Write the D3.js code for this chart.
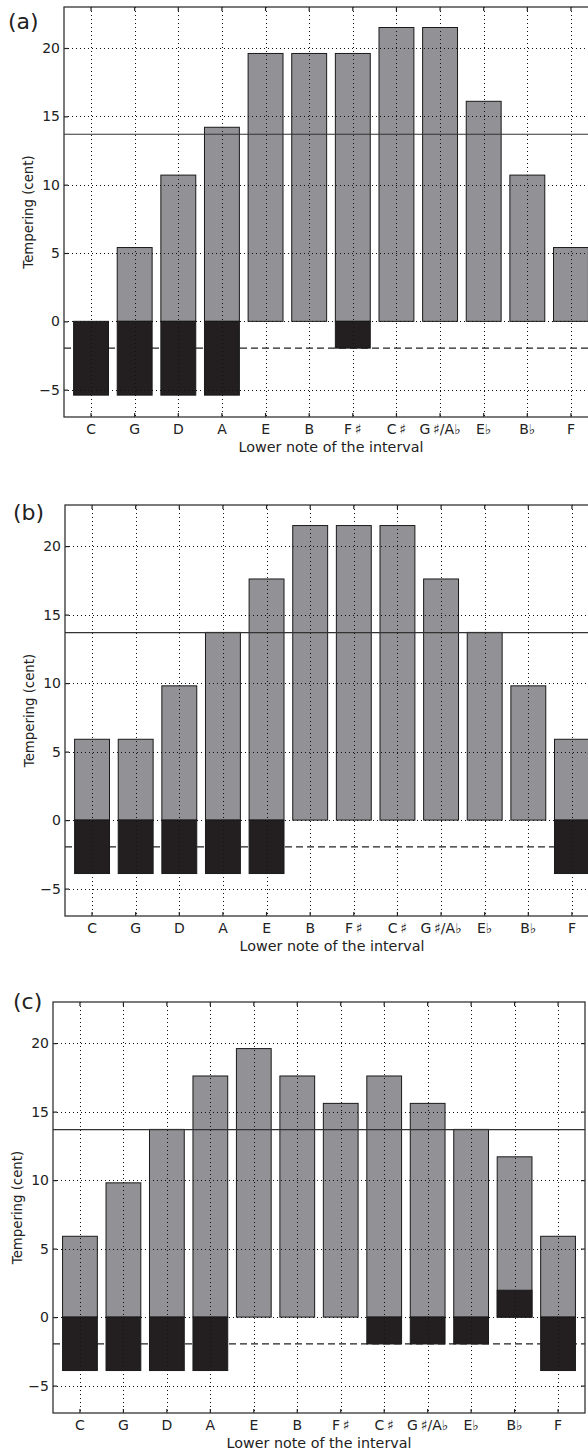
<!DOCTYPE html>
<html>
<head>
<meta charset="utf-8">
<script src="https://cdn.jsdelivr.net/npm/d3@7"></script>
<style>
  html, body { margin: 0; padding: 0; background: #fff; }
  svg { display: block; font-family: "DejaVu Sans", sans-serif; }
</style>
</head>
<body>
<div id="chart"></div>
<script>
const notes = ["C", "G", "D", "A", "E", "B", "F\u2009\u266F", "C\u2009\u266F", "G\u2009\u266F/A\u266D", "E\u266D", "B\u266D", "F"];
const yTicks = [-5, 0, 5, 10, 15, 20];
const etThird = 13.69;
const etFifth = -1.96;

// gray bars: tempering of the major thirds, black bars: tempering of the fifths
const thirdsA = [0, 5.4, 10.7, 14.2, 19.6, 19.6, 19.6, 21.5, 21.5, 16.1, 10.7, 5.4];
const fifthsA = [-5.4, -5.4, -5.4, -5.4, 0, 0, -1.96, 0, 0, 0, 0, 0];
const thirdsB = [5.9, 5.9, 9.8, 13.7, 17.6, 21.5, 21.5, 21.5, 17.6, 13.7, 9.8, 5.9];
const fifthsB = [-3.9, -3.9, -3.9, -3.9, -3.9, 0, 0, 0, 0, 0, 0, -3.9];
const thirdsC = [5.9, 9.8, 13.7, 17.6, 19.6, 17.6, 15.6, 17.6, 15.6, 13.7, 11.7, 5.9];
const fifthsC = [-3.9, -3.9, -3.9, -3.9, 0, 0, 0, -1.96, -1.96, -1.96, 1.96, -3.9];

const panels = [
  { label: "(a)", thirds: thirdsA, fifths: fifthsA, left: 64, top: 7, bottom: 417, right: 598, labelX: 8, labelY: 29, titleX: 28 },
  { label: "(b)", thirds: thirdsB, fifths: fifthsB, left: 65, top: 505, bottom: 916, right: 599, labelX: 13, labelY: 520, titleX: 29 },
  { label: "(c)", thirds: thirdsC, fifths: fifthsC, left: 53, top: 1002, bottom: 1413, right: 585, labelX: 13, labelY: 1009, titleX: 17 }
];

const width = 588, height = 1452;
const grayFill = "#929296";
const darkFill = "#231f20";
const lineColor = "#222";

const svg = d3.select("#chart").append("svg")
  .attr("width", width).attr("height", height);

panels.forEach(p => {
  const x = d3.scaleBand().domain(notes).range([p.left, p.right])
    .paddingInner(0.2).paddingOuter(0.22);
  const y = d3.scaleLinear().domain([-7, 23]).range([p.bottom, p.top]);
  const g = svg.append("g");
  const cx = d => x(d) + x.bandwidth() / 2;

  // dashed line: tempering of the equal-tempered fifth
  g.append("line")
    .attr("x1", p.left).attr("x2", p.right)
    .attr("y1", y(etFifth)).attr("y2", y(etFifth))
    .attr("stroke", lineColor).attr("stroke-width", 1.2)
    .attr("stroke-dasharray", "7,4");

  // gray bars
  g.selectAll(".third").data(notes.map((n, i) => ({ n, v: p.thirds[i] })).filter(d => d.v !== 0))
    .join("rect").attr("class", "third")
    .attr("x", d => x(d.n)).attr("width", x.bandwidth())
    .attr("y", d => y(Math.max(0, d.v))).attr("height", d => Math.abs(y(d.v) - y(0)))
    .attr("fill", grayFill).attr("stroke", "#1a1a1a").attr("stroke-width", 1);

  // black bars
  g.selectAll(".fifth").data(notes.map((n, i) => ({ n, v: p.fifths[i] })).filter(d => d.v !== 0))
    .join("rect").attr("class", "fifth")
    .attr("x", d => x(d.n)).attr("width", x.bandwidth())
    .attr("y", d => y(Math.max(0, d.v))).attr("height", d => Math.abs(y(d.v) - y(0)))
    .attr("fill", darkFill).attr("stroke", "#1a1a1a").attr("stroke-width", 1);

  // dotted grid
  g.selectAll(".vgrid").data(notes).join("line").attr("class", "vgrid")
    .attr("x1", d => Math.round(cx(d)) + 0.5).attr("x2", d => Math.round(cx(d)) + 0.5)
    .attr("y1", p.top).attr("y2", p.bottom)
    .attr("stroke", "#111").attr("stroke-width", 1).attr("stroke-dasharray", "1,3");
  g.selectAll(".hgrid").data(yTicks).join("line").attr("class", "hgrid")
    .attr("x1", p.left).attr("x2", p.right)
    .attr("y1", d => Math.round(y(d)) + 0.5).attr("y2", d => Math.round(y(d)) + 0.5)
    .attr("stroke", "#111").attr("stroke-width", 1).attr("stroke-dasharray", "1,3");

  // solid line: tempering of the equal-tempered major third
  g.append("line")
    .attr("x1", p.left).attr("x2", p.right)
    .attr("y1", y(etThird)).attr("y2", y(etThird))
    .attr("stroke", "#333").attr("stroke-width", 1.2);

  // axes with inward ticks
  const xAxis = g.append("g").attr("transform", `translate(0,${p.bottom})`)
    .call(d3.axisBottom(x).tickSize(-4).tickPadding(5));
  const xTop = g.append("g").attr("transform", `translate(0,${p.top})`)
    .call(d3.axisTop(x).tickSize(-4).tickFormat(""));
  const yAxis = g.append("g").attr("transform", `translate(${p.left},0)`)
    .call(d3.axisLeft(y).tickValues(yTicks).tickSize(-4).tickPadding(4));
  const yRight = g.append("g").attr("transform", `translate(${p.right},0)`)
    .call(d3.axisRight(y).tickValues(yTicks).tickSize(-4).tickFormat(""));
  [xAxis, xTop, yAxis, yRight].forEach(a => {
    a.select(".domain").remove();
    a.selectAll("line").attr("stroke", lineColor).attr("stroke-width", 1.2);
    a.selectAll("text").attr("fill", "#222").style("font-size", "14px")
      .style("font-family", "'DejaVu Sans', sans-serif");
  });
  xAxis.selectAll("text").attr("dy", "0.85em");

  // frame
  g.append("rect")
    .attr("x", p.left).attr("y", p.top)
    .attr("width", p.right - p.left).attr("height", p.bottom - p.top)
    .attr("fill", "none").attr("stroke", "#333").attr("stroke-width", 1.3);

  // titles
  g.append("text")
    .attr("x", (p.left + p.right) / 2).attr("y", p.bottom + 35)
    .attr("text-anchor", "middle").style("font-size", "14.3px").attr("fill", "#222")
    .text("Lower note of the interval");
  g.append("text")
    .attr("transform", `translate(${p.titleX + 5},${(p.top + p.bottom) / 2}) rotate(-90)`)
    .attr("text-anchor", "middle").style("font-size", "13.3px").attr("fill", "#222")
    .text("Tempering (cent)");
  g.append("text")
    .attr("x", p.labelX).attr("y", p.labelY)
    .style("font-size", "22px").attr("fill", "#222")
    .text(p.label);
});
</script>
</body>
</html>
